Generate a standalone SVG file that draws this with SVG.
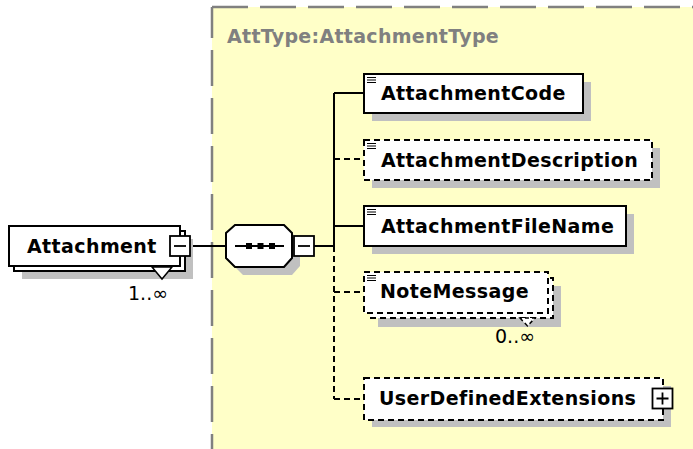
<svg xmlns="http://www.w3.org/2000/svg" width="693" height="449" viewBox="0 0 693 449">
<style>
.lbl{font-family:"DejaVu Sans",Verdana,sans-serif;font-weight:bold;font-size:19px;letter-spacing:0.4px;fill:#000}
.occ{font-family:"DejaVu Sans",Verdana,sans-serif;font-size:19px;fill:#000}
.title{font-family:"DejaVu Sans",Verdana,sans-serif;font-weight:bold;font-size:19px;letter-spacing:0.3px;fill:#808080}
.box{fill:#fff;stroke:#000;stroke-width:2}
.opt{fill:#fff;stroke:#000;stroke-width:2;stroke-dasharray:6 4}
.shadow{fill:#c0c0c0}
.conn{stroke:#000;stroke-width:2;fill:none}
.dconn{stroke:#000;stroke-width:2;fill:none;stroke-dasharray:6 4}
.ico{stroke:#000;stroke-width:1.2}
.btn{fill:#fff;stroke:#000;stroke-width:1.8}
.frame{stroke:#808080;stroke-width:2.5;fill:none;stroke-dasharray:36 12}
</style>
<rect x="0" y="0" width="693" height="449" fill="#fff"/>
<g id="type-area">
<rect x="212" y="7" width="481" height="442" fill="#FFFFC8"/>
<path class="frame" d="M212,7 V449" stroke-dashoffset="5"/>
<path class="frame" d="M212,7 H693" stroke-dashoffset="0"/>
<text class="title" x="227" y="43">AttType:AttachmentType</text>
</g>
<g id="connectors">
<path class="conn" d="M191,246 H226"/>
<path class="conn" d="M314,246 H334"/>
<path class="conn" d="M334,93 V246"/>
<path class="conn" d="M334,93 H364"/>
<path class="conn" d="M334,226 H364"/>
<path class="dconn" d="M334,246 V399"/>
<path class="dconn" d="M334,159 H364"/>
<path class="dconn" d="M334,292 H364"/>
<path class="dconn" d="M334,399 H364"/>
</g>
<g id="Attachment">
<rect class="shadow" x="22" y="239" width="171" height="40"/>
<rect class="box" x="14" y="231" width="171" height="40"/>
<rect class="box" x="9" y="226" width="171" height="40"/>
<polygon points="152,267 162,279 172,267" fill="#fff" stroke="#000" stroke-width="1.5"/>
<text class="lbl" x="27" y="253">Attachment</text>
<rect class="btn" x="170" y="236" width="20" height="20"/>
<line x1="174" y1="246" x2="186" y2="246" stroke="#000" stroke-width="1.8"/>
<text class="occ" x="128" y="300">1..∞</text>
</g>
<g id="sequence">
<polygon class="shadow" points="243,233 292,233 300,241 300,266 292,275 243,275 234,266 234,241"/>
<polygon class="box" points="235,225 284,225 292,233 292,258 284,267 235,267 226,258 226,233"/>
<line x1="235" y1="246" x2="284" y2="246" stroke="#000" stroke-width="2"/>
<rect x="246" y="243" width="6" height="6" fill="#000"/>
<rect x="257.5" y="243" width="6" height="6" fill="#000"/>
<rect x="269" y="243" width="6" height="6" fill="#000"/>
<rect class="btn" x="294" y="236" width="20" height="20"/>
<line x1="298" y1="246" x2="310" y2="246" stroke="#000" stroke-width="1.8"/>
</g>
<g id="AttachmentCode">
<rect class="shadow" x="372" y="82" width="219" height="39"/>
<rect class="box" x="364" y="74" width="219" height="39"/>
<path class="ico" d="M367,77.5 H376 M367,80 H376 M367,82.5 H376"/>
<text class="lbl" x="381" y="100">AttachmentCode</text>
</g>
<g id="AttachmentDescription">
<rect class="shadow" x="372" y="148" width="288" height="40"/>
<rect class="opt" x="364" y="140" width="288" height="40"/>
<path class="ico" d="M367,143.5 H376 M367,146 H376 M367,148.5 H376"/>
<text class="lbl" x="381" y="167">AttachmentDescription</text>
</g>
<g id="AttachmentFileName">
<rect class="shadow" x="372" y="214" width="262" height="40"/>
<rect class="box" x="364" y="206" width="262" height="40"/>
<path class="ico" d="M367,209.5 H376 M367,212 H376 M367,214.5 H376"/>
<text class="lbl" x="381" y="233">AttachmentFileName</text>
</g>
<g id="NoteMessage">
<rect class="shadow" x="378" y="286" width="183" height="41"/>
<rect class="opt" x="370" y="278" width="183" height="40"/>
<rect class="opt" x="364" y="272" width="184" height="41"/>
<polygon points="520,318 527.5,326 535,318" fill="#fff" stroke="#000" stroke-width="1.5" stroke-dasharray="4 3"/>
<path class="ico" d="M367,275.5 H376 M367,278 H376 M367,280.5 H376"/>
<text class="lbl" x="380" y="298">NoteMessage</text>
<text class="occ" x="495" y="343">0..∞</text>
</g>
<g id="UserDefinedExtensions">
<rect class="shadow" x="372" y="386" width="299" height="41"/>
<rect class="opt" x="364" y="378" width="299" height="42"/>
<text class="lbl" x="379" y="405">UserDefinedExtensions</text>
<rect class="btn" x="652.5" y="388.5" width="20" height="20"/>
<path d="M656.5,398.5 H668.5 M662.5,392.5 V404.5" stroke="#000" stroke-width="1.8"/>
</g>
</svg>
